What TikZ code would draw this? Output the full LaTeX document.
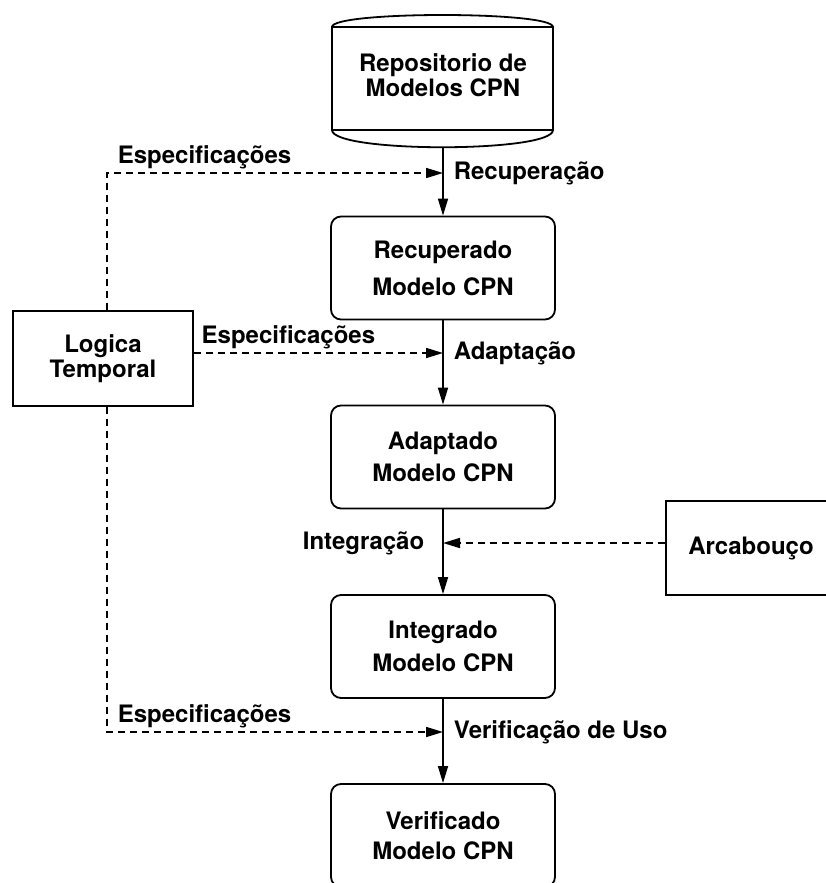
\documentclass[tikz,border=0pt]{standalone}
\usepackage{fontspec}
\setmainfont{TeX Gyre Heros}
\usepackage{tikz}
\usetikzlibrary{arrows.meta,positioning,calc}

\begin{document}
\begin{tikzpicture}[x=0.5pt, y=-0.5pt,
    font=\fontsize{12}{14.4}\selectfont\bfseries,
    model/.style={draw, rounded corners=5pt, line width=0.9pt, align=center,
        minimum width=112pt, minimum height=51.5pt, inner sep=0pt},
    plain/.style={draw, line width=0.9pt, align=center, inner sep=0pt},
    flow/.style={line width=0.8pt, -{Triangle[length=8.5pt,width=5pt]}},
    spec/.style={flow, dash pattern=on 3.5pt off 2.5pt},
    lbl/.style={inner sep=1.5pt}]
    \useasboundingbox (0,0) rectangle (825,883);

    % Repository
    \draw[line width=0.9pt] (332,27) rectangle (553,130)
        (332,27) .. controls (332,11) and (553,11) .. (553,27)
        (332,130) .. controls (332,153) and (553,153) .. (553,130);
    \node[align=center, minimum width=110pt, minimum height=72pt] (repo) at (443,75)
        {Repositorio de\\[-1.9pt]Modelos CPN};

    % Models
    \node[model] (rec) at (443,268) {Recuperado\\[4.1pt]Modelo CPN};
    \node[model] (adp) at (443,457) {Adaptado\\[1.6pt]Modelo CPN};
    \node[model] (intg) at (443,646.5) {Integrado\\[2.1pt]Modelo CPN};
    \node[model] (ver) at (443,835.5) {Verificado\\[0.6pt]Modelo CPN};

    % Inputs
    \node[plain, minimum width=90pt, minimum height=47.5pt] (logic) at (103,358.5)
        {Logica\\[-1.9pt]Temporal};
    \node[plain, minimum width=85pt, minimum height=47pt] (frame) at (751,548) {Arcabouço};

    % Junctions
    \coordinate (j1) at (443,173);
    \coordinate (j2) at (443,353);
    \coordinate (j3) at (443,543);
    \coordinate (j4) at (443,732);

    % Flow
    \draw[flow] (repo) -- (rec);
    \draw[flow] (rec) -- (adp);
    \draw[flow] (adp) -- (intg);
    \draw[flow] (intg) -- (ver);

    % Specifications
    \draw[spec] ([xshift=2pt]logic.north) |- node[lbl, above right, pos=0.5, xshift=3.5pt] {Especificações}
        (j1) node[lbl, right, xshift=3.5pt] {Recuperação};
    \draw[spec] (logic.east |- j2) -- node[lbl, above right, pos=0, xshift=2pt] {Especificações}
        (j2) node[lbl, right, xshift=3.5pt] {Adaptação};
    \draw[spec] ([xshift=2pt]logic.south) |- node[lbl, above right, pos=0.5, xshift=3.5pt] {Especificações}
        (j4) node[lbl, right, xshift=3.5pt] {Verificação de Uso};
    \draw[spec] (frame.west |- j3) -- (j3) node[lbl, left, xshift=-7.5pt] {Integração};
\end{tikzpicture}
\end{document}
